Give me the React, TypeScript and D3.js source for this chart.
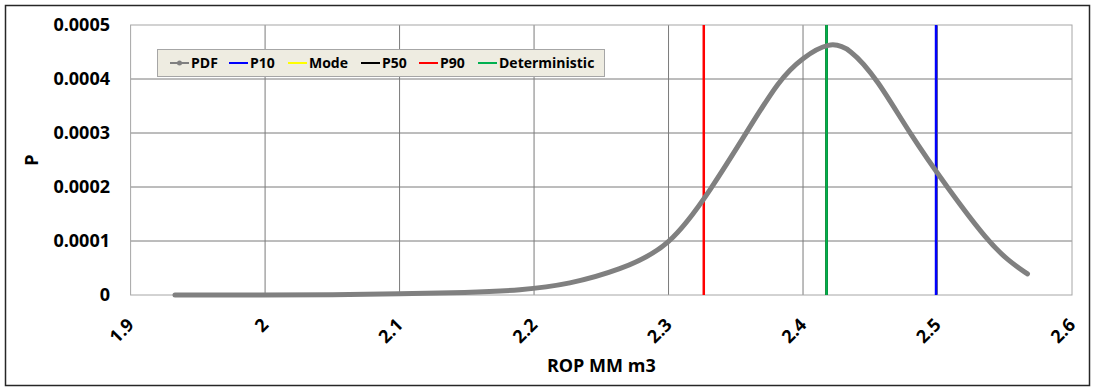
import React, { useEffect, useRef } from "react";
import * as d3 from "d3";

// PDF curve samples: ROP (MM m3) and probability density
const pdfX = [1.933, 2.0, 2.05, 2.1, 2.15, 2.19, 2.2265, 2.2636, 2.3009, 2.3317, 2.3577, 2.3825, 2.3998, 2.4196, 2.4345, 2.4552, 2.479, 2.5075, 2.5372, 2.5533, 2.5669];
const pdfP = [0.0, 0.0, 0.0000005, 0.000002, 0.0000045, 0.0000085, 0.00002, 0.000046, 0.000088, 0.000196, 0.0003, 0.0004, 0.00044, 0.000469, 0.000458, 0.0004, 0.0003, 0.000198, 0.0001, 0.000062, 0.000039];

// Statistic markers (vertical lines)
const markerNames = ["P10", "Mode", "P50", "P90", "Deterministic"];
const markerValues = [2.4989, 2.4175, 2.4175, 2.3262, 2.4175];
const markerColors = ["#0000FF", "#FFFF00", "#000000", "#FF0000", "#00B050"];

// Axis ticks
const xTicks = [1.9, 2.0, 2.1, 2.2, 2.3, 2.4, 2.5, 2.6];
const xTickLabels = ["1.9", "2", "2.1", "2.2", "2.3", "2.4", "2.5", "2.6"];
const yTicks = [0, 0.0001, 0.0002, 0.0003, 0.0004, 0.0005];
const yTickLabels = ["0", "0.0001", "0.0002", "0.0003", "0.0004", "0.0005"];

const W = 1095;
const H = 390;
const plot = { left: 130.6, right: 1072, top: 25, bottom: 295 };
const FONT = "'Open Sans', sans-serif";

export default function App() {
  const ref = useRef<SVGSVGElement>(null);

  useEffect(() => {
    const svg = d3.select(ref.current);
    svg.selectAll("*").remove();

    const x = d3.scaleLinear().domain([1.9, 2.6]).range([plot.left, plot.right]);
    const y = d3.scaleLinear().domain([0, 0.0005]).range([plot.bottom, plot.top]);

    svg.append("rect").attr("width", W).attr("height", H).attr("fill", "#fff");

    // chart frame
    svg.append("rect")
      .attr("x", 5.5).attr("y", 5.5).attr("width", 1084).attr("height", 380)
      .attr("fill", "none").attr("stroke", "#262626").attr("stroke-width", 1.5);

    // gridlines
    const g = svg.append("g");
    g.selectAll("line.gx")
      .data(xTicks.slice(1, -1))
      .join("line")
      .attr("x1", (d) => x(d)).attr("x2", (d) => x(d))
      .attr("y1", plot.top).attr("y2", plot.bottom)
      .attr("stroke", "#7a7a7a").attr("stroke-width", 1);
    g.selectAll("line.gy")
      .data(yTicks.slice(1, -1))
      .join("line")
      .attr("x1", plot.left).attr("x2", plot.right)
      .attr("y1", (d) => y(d)).attr("y2", (d) => y(d))
      .attr("stroke", "#7a7a7a").attr("stroke-width", 1);

    // plot area border
    svg.append("rect")
      .attr("x", plot.left).attr("y", plot.top)
      .attr("width", plot.right - plot.left).attr("height", plot.bottom - plot.top)
      .attr("fill", "none").attr("stroke", "#a6a6a6").attr("stroke-width", 1);

    // statistic lines
    svg.selectAll("line.marker")
      .data(markerValues)
      .join("line")
      .attr("x1", (d) => x(d)).attr("x2", (d) => x(d))
      .attr("y1", plot.top).attr("y2", plot.bottom)
      .attr("stroke", (_, i) => markerColors[i])
      .attr("stroke-width", 2.5);

    // PDF curve
    const pts = pdfX.map((v, i) => [v, pdfP[i]] as [number, number]);
    const line = d3.line<[number, number]>()
      .x((d) => x(d[0])).y((d) => y(d[1]))
      .curve(d3.curveBasis);
    svg.append("path")
      .attr("d", line(pts))
      .attr("fill", "none").attr("stroke", "#808080")
      .attr("stroke-width", 5).attr("stroke-linecap", "round").attr("stroke-linejoin", "round");

    // y tick labels
    svg.selectAll("text.yt")
      .data(yTicks)
      .join("text")
      .attr("x", 110).attr("y", (d) => y(d))
      .attr("dy", "0.35em")
      .attr("text-anchor", "end")
      .attr("font-family", FONT).attr("font-weight", 700).attr("font-size", 18)
      .attr("fill", "#000")
      .text((_, i) => yTickLabels[i]);

    // x tick labels (rotated)
    svg.selectAll("text.xt")
      .data(xTicks)
      .join("text")
      .attr("transform", (d) => `translate(${x(d) + 4.5},326) rotate(-45)`)
      .attr("text-anchor", "end")
      .attr("font-family", FONT).attr("font-weight", 700).attr("font-size", 18)
      .attr("fill", "#000")
      .text((_, i) => xTickLabels[i]);

    // axis titles
    svg.append("text")
      .attr("x", (plot.left + plot.right) / 2).attr("y", 372)
      .attr("text-anchor", "middle")
      .attr("font-family", FONT).attr("font-weight", 700).attr("font-size", 18)
      .text("ROP MM m3");
    svg.append("text")
      .attr("transform", `translate(38,${(plot.top + plot.bottom) / 2}) rotate(-90)`)
      .attr("text-anchor", "middle")
      .attr("font-family", FONT).attr("font-weight", 700).attr("font-size", 18)
      .text("P");

    // legend
    const leg = svg.append("g");
    leg.append("rect")
      .attr("x", 157.5).attr("y", 49.5).attr("width", 447).attr("height", 27)
      .attr("fill", "#EEECE1").attr("stroke", "#a6a6a6").attr("stroke-width", 1);
    const legNames = ["PDF", ...markerNames];
    const legColors = ["#808080", ...markerColors];
    const legLineX = [170, 229, 288, 361, 419, 478];
    legNames.forEach((name, i) => {
      const lx = legLineX[i];
      leg.append("line")
        .attr("x1", lx).attr("x2", lx + 19).attr("y1", 63).attr("y2", 63)
        .attr("stroke", legColors[i]).attr("stroke-width", 2);
      if (i === 0) {
        leg.append("circle").attr("cx", lx + 9.5).attr("cy", 63).attr("r", 2.5).attr("fill", "#808080");
      }
      leg.append("text")
        .attr("x", lx + 21).attr("y", 63).attr("dy", "0.35em")
        .attr("font-family", FONT).attr("font-weight", 700).attr("font-size", 14)
        .attr("fill", "#000")
        .text(name);
    });
  }, []);

  return (
    <svg
      ref={ref}
      width={W}
      height={H}
      style={{ position: "absolute", left: 0, top: 0, display: "block" }}
    />
  );
}
